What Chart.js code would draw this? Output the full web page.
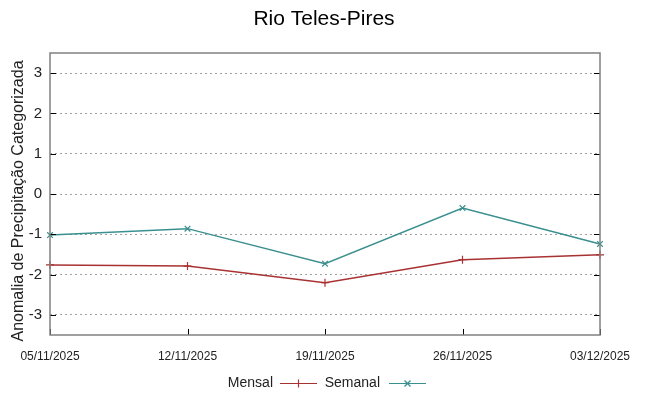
<!DOCTYPE html>
<html>
<head>
<meta charset="utf-8">
<script src="https://cdn.jsdelivr.net/npm/chart.js@4"></script>
<style>
  body { margin: 0; background: #fff; }
  #wrap { width: 648px; height: 396px; }
</style>
</head>
<body>
<div id="wrap"><canvas id="chart" width="648" height="396"></canvas></div>
<script>
const labels = ["05/11/2025", "12/11/2025", "19/11/2025", "26/11/2025", "03/12/2025"];
const mensal = [-1.76, -1.79, -2.2, -1.63, -1.51];
const semanal = [-1.02, -0.86, -1.73, -0.35, -1.24];
const yTicks = [-3, -2, -1, 0, 1, 2, 3];

const RED = "#a83232";
const TEAL = "#3a8f8f";
const FONT = "'Liberation Sans', Arial, sans-serif";

// gnuplot-ish frame, inward ticks, title, y label and legend
const decor = {
  id: "decor",
  afterDraw(chart) {
    const { ctx, chartArea: a, scales: { x, y } } = chart;
    const line = (x1, y1, x2, y2) => {
      ctx.beginPath();
      ctx.moveTo(x1, y1);
      ctx.lineTo(x2, y2);
      ctx.stroke();
    };
    ctx.save();
    ctx.strokeStyle = "#000";
    ctx.lineWidth = 1;
    yTicks.forEach((v) => {
      const py = Math.round(y.getPixelForValue(v)) + 0.5;
      line(a.left, py, a.left + 6, py);
      line(a.right - 6, py, a.right, py);
    });
    labels.forEach((l, i) => {
      const px = Math.round(x.getPixelForValue(i)) + 0.5;
      line(px, a.bottom - 6, px, a.bottom);
    });
    ctx.strokeStyle = "#808080";
    ctx.lineWidth = 1.5;
    ctx.strokeRect(a.left, a.top, a.right - a.left, a.bottom - a.top);

    ctx.fillStyle = "#000";
    ctx.textAlign = "center";
    ctx.textBaseline = "middle";
    ctx.font = "21px " + FONT;
    ctx.fillText("Rio Teles-Pires", 324, 19);

    ctx.save();
    ctx.translate(19, 201);
    ctx.rotate(-Math.PI / 2);
    ctx.font = "16px " + FONT;
    ctx.fillStyle = "#222";
    ctx.fillText("Anomalia de Precipitação Categorizada", 0, 0);
    ctx.restore();

    // legend
    const ly = 383.5;
    ctx.font = "14px " + FONT;
    ctx.fillStyle = "#222";
    ctx.textAlign = "right";
    ctx.fillText("Mensal", 273, ly);
    ctx.fillText("Semanal", 380, ly);
    ctx.lineWidth = 1.2;
    ctx.strokeStyle = RED;
    line(280, ly, 317, ly);
    line(298.5, ly - 4, 298.5, ly + 4);
    ctx.strokeStyle = TEAL;
    line(389, ly, 426, ly);
    line(404.5, ly - 3, 410.5, ly + 3);
    line(404.5, ly + 3, 410.5, ly - 3);
    ctx.restore();
  }
};

new Chart(document.getElementById("chart"), {
  type: "line",
  data: {
    labels: labels,
    datasets: [
      {
        label: "Mensal",
        data: mensal,
        borderColor: RED,
        backgroundColor: RED,
        borderWidth: 1.5,
        pointStyle: "cross",
        pointRadius: 4,
        pointBorderWidth: 1.2,
        tension: 0,
        fill: false,
        clip: false,
      },
      {
        label: "Semanal",
        data: semanal,
        borderColor: TEAL,
        backgroundColor: TEAL,
        borderWidth: 1.5,
        pointStyle: "crossRot",
        pointRadius: 4,
        pointBorderWidth: 1.2,
        tension: 0,
        fill: false,
        clip: false,
      },
    ],
  },
  options: {
    responsive: false,
    animation: false,
    layout: { padding: { top: 53, right: 48, bottom: 0, left: 0 } },
    plugins: {
      legend: { display: false },
      title: { display: false },
      tooltip: { enabled: false },
    },
    scales: {
      x: {
        offset: false,
        afterFit: (s) => { s.height = 61; },
        grid: { display: false, drawTicks: false },
        border: { display: false },
        ticks: {
          autoSkip: false,
          maxRotation: 0,
          padding: 14,
          color: "#222",
          font: { family: FONT, size: 12 },
        },
      },
      y: {
        min: -3.5,
        max: 3.5,
        afterFit: (s) => { s.width = 50; },
        afterBuildTicks: (s) => { s.ticks = yTicks.map((v) => ({ value: v })); },
        grid: {
          color: "#a0a0a0",
          lineWidth: 1,
          drawTicks: false,
        },
        border: { display: false, dash: [2, 3] },
        ticks: {
          padding: 8,
          color: "#222",
          font: { family: FONT, size: 15 },
        },
      },
    },
  },
  plugins: [decor],
});
</script>
</body>
</html>
